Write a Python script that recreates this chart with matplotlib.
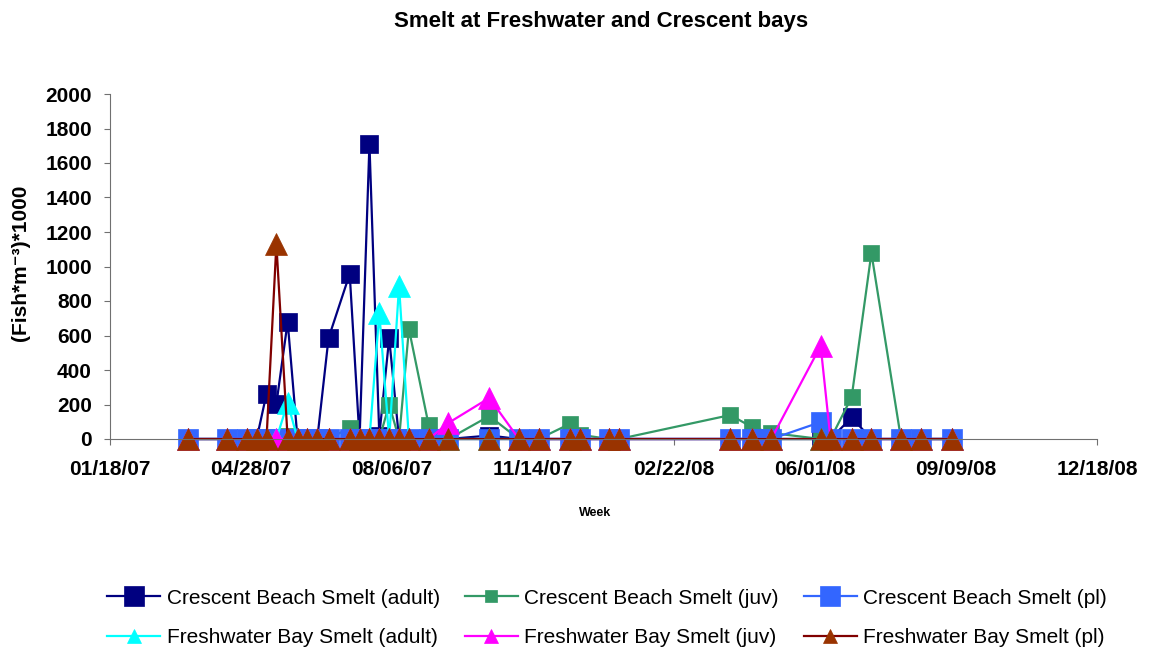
import pandas as pd
import numpy as np
import matplotlib
matplotlib.use('Agg')
import matplotlib.pyplot as plt
import matplotlib.dates as mdates
from matplotlib.lines import Line2D

plt.rcParams['font.family'] = ['Liberation Sans', 'DejaVu Sans']

# sampling dates (weekly-ish)
dates = pd.to_datetime([
    '2007-03-14', '2007-04-11', '2007-04-25', '2007-05-02', '2007-05-09',
    '2007-05-16', '2007-05-24', '2007-05-31', '2007-06-07', '2007-06-14',
    '2007-06-22', '2007-07-07', '2007-07-14', '2007-07-21', '2007-07-28',
    '2007-08-04', '2007-08-11', '2007-08-18', '2007-09-01', '2007-09-15',
    '2007-10-14', '2007-11-04', '2007-11-18', '2007-12-10', '2007-12-17',
    '2008-01-07', '2008-01-14', '2008-04-02', '2008-04-17', '2008-05-01',
    '2008-06-05', '2008-06-12', '2008-06-27', '2008-07-11', '2008-08-01',
    '2008-08-15', '2008-09-06',
])

cb_adult = [0, 0, 0, 0, 262, 203, 680, 0, 0, 0, 585, 957, 0, 1710, 20, 585, 0, 0, 0,
            0, 20, 0, 0, 0, 0, 0, 0, 0, 0, 0, 0, 0, 125, 0, 0, 0, 0]
cb_juv = [0, 0, 0, 0, 0, 0, 15, 0, 0, 0, 0, 65, 0, 0, 0, 200, 0, 638, 80,
          0, 133, 0, 0, 87, 25, 0, 0, 139, 70, 35, 0, 0, 243, 1078, 0, 0, 0]
cb_pl = [0, 0, 0, 0, 0, 0, 0, 0, 0, 0, 0, 0, 0, 0, 0, 0, 0, 0, 0,
         0, 0, 0, 0, 0, 0, 0, 0, 0, 0, 0, 98, 0, 0, 0, 0, 0, 0]
fb_adult = [0, 0, 0, 0, 0, 0, 211, 0, 0, 0, 0, 0, 0, 0, 730, 0, 887, 0, 0,
            0, 0, 0, 0, 0, 0, 0, 0, 0, 0, 0, 0, 0, 0, 0, 0, 0, 0]
fb_juv = [0, 0, 0, 0, 0, 0, 0, 0, 0, 0, 0, 0, 0, 0, 0, 0, 0, 0, 0,
          93, 238, 0, 0, 0, 0, 0, 0, 0, 0, 0, 540, 0, 0, 0, 0, 0, 0]
fb_pl = [0, 0, 0, 0, 0, 1130, 0, 0, 0, 0, 0, 0, 0, 0, 0, 0, 0, 0, 0,
         0, 0, 0, 0, 0, 0, 0, 0, 0, 0, 0, 0, 0, 0, 0, 0, 0, 0]

labels = ['Crescent Beach Smelt (adult)', 'Crescent Beach Smelt (juv)',
          'Crescent Beach Smelt (pl)', 'Freshwater Bay Smelt (adult)',
          'Freshwater Bay Smelt (juv)', 'Freshwater Bay Smelt (pl)']

# (values, line colour, marker colour, marker, plot size, legend size)
series = [
    (cb_adult, '#000080', '#000080', 's', 13.5, 14),
    (cb_juv, '#339966', '#339966', 's', 12, 9),
    (cb_pl, '#3366FF', '#3366FF', 's', 14, 14),
    (fb_adult, '#00FFFF', '#00FFFF', '^', 15.5, 9.5),
    (fb_juv, '#FF00FF', '#FF00FF', '^', 15.5, 9.5),
    (fb_pl, '#800000', '#993300', '^', 15.5, 9.5),
]

fig = plt.figure(figsize=(11.63, 6.52), dpi=100)
ax = fig.add_axes([110/1163, 1-439/652, (1097-110)/1163, (439-94)/652])

handles = []
for (vals, lc, mc, mk, ms, lms), lab in zip(series, labels):
    ax.plot(dates, vals, color=lc, lw=1.6, marker=mk, ms=ms,
            mfc=mc, mec=mc, mew=0.5, clip_on=False)
    handles.append(Line2D([], [], color=lc, lw=1.6, marker=mk, ms=lms,
                          mfc=mc, mec=mc, mew=0.5, label=lab))

start = pd.Timestamp('2007-01-18')
ticks = [start + pd.Timedelta(days=100*i) for i in range(8)]
ax.set_xlim(ticks[0], ticks[-1])
ax.set_xticks(ticks)
ax.xaxis.set_major_formatter(mdates.DateFormatter('%m/%d/%y'))
ax.set_ylim(0, 2000)
ax.set_yticks(np.arange(0, 2001, 200))

for s in ['top', 'right']:
    ax.spines[s].set_visible(False)
for s in ['left', 'bottom']:
    ax.spines[s].set_color('#707070')
ax.tick_params(axis='both', direction='out', length=4, color='#707070',
               labelsize=15)
ax.tick_params(axis='x', pad=11)
ax.tick_params(axis='y', pad=9)
for t in ax.get_xticklabels() + ax.get_yticklabels():
    t.set_fontweight('bold')

ylab = ax.set_ylabel('(Fish*m\u207b\u00b3)*1000', fontsize=15, fontweight='bold',
                     ha='center', va='center')
ax.yaxis.set_label_coords(-(110-21)/987, 0.51)
ax.set_xlabel('Week', fontsize=9, fontweight='bold')
ax.xaxis.set_label_coords((595-110)/987, -(507-439)/345)

fig.text(601/1163, 1-21/652, 'Smelt at Freshwater and Crescent bays',
         ha='center', va='center', fontsize=16, fontweight='bold')

order = [0, 3, 1, 4, 2, 5]
fig.legend([handles[i] for i in order], [labels[i] for i in order],
           ncol=3, loc='center', bbox_to_anchor=(607/1163, 1-618/652),
           frameon=False, fontsize=15, handlelength=2.55, labelspacing=1.0,
           columnspacing=1.2, handletextpad=0.3)

fig.savefig('out.png', dpi=100)
